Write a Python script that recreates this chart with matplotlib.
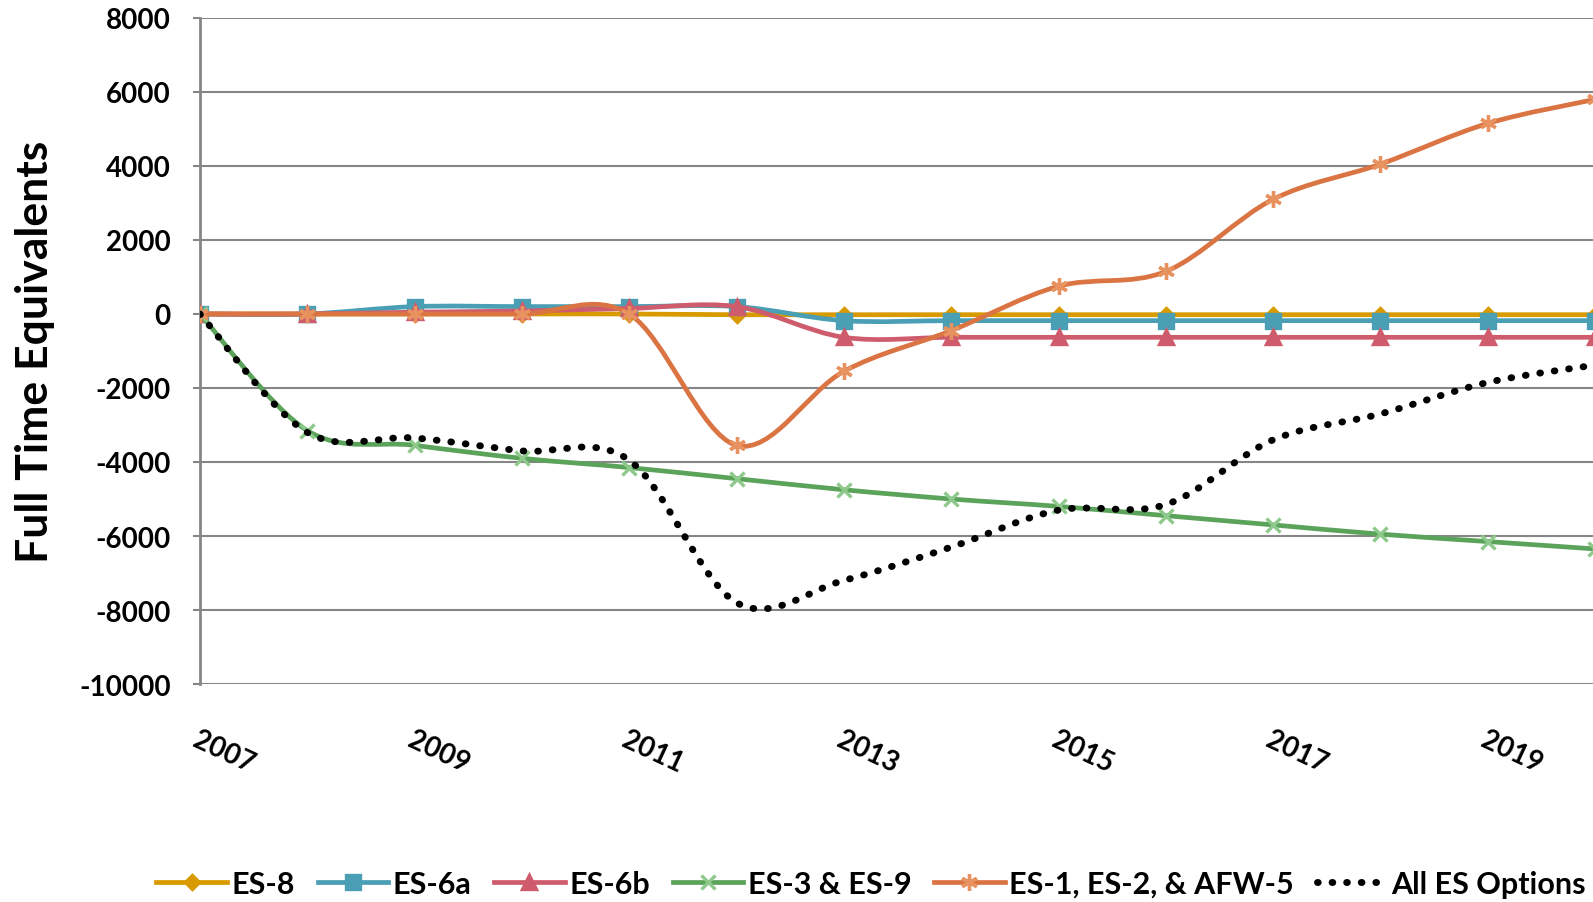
import matplotlib
matplotlib.use("Agg")
import matplotlib.pyplot as plt
import numpy as np
from matplotlib.path import Path
from matplotlib.patches import PathPatch
from matplotlib.lines import Line2D

plt.rcParams["font.family"] = ["Lato", "DejaVu Sans"]
plt.rcParams["font.weight"] = "bold"

# Data
years = [2007, 2008, 2009, 2010, 2011, 2012, 2013, 2014, 2015, 2016, 2017, 2018, 2019, 2020]
es8 = [0, 0, 0, 0, 0, -20, -20, -20, -20, -20, -20, -20, -20, -20]
es6a = [0, 0, 200, 200, 200, 200, -180, -180, -180, -180, -180, -180, -180, -180]
es6b = [0, 0, 50, 80, 150, 200, -630, -630, -630, -630, -630, -630, -630, -630]
es3_9 = [0, -3150, -3550, -3900, -4150, -4450, -4750, -5000, -5200, -5450, -5700, -5950, -6150, -6350]
es1_2 = [0, 0, 0, 0, 0, -3550, -1550, -450, 750, 1150, 3100, 4050, 5150, 5800]
all_es = [0, -3200, -3350, -3700, -3950, -7800, -7200, -6300, -5300, -5150, -3400, -2700, -1850, -1380]

labels = ["ES-8", "ES-6a", "ES-6b", "ES-3 & ES-9", "ES-1, ES-2, & AFW-5", "All ES Options"]
colors = ["#D99A00", "#4A9FB5", "#CE5C6C", "#5BA35A", "#DB7443", "#000000"]
marker_faces = ["#D99A00", "#4A9FB5", "#CE5C6C", "#8CC98A", "#E8925F", None]
markers = ["D", "s", "^", "x", (6, 2, 0), None]
series = [es8, es6a, es6b, es3_9, es1_2, all_es]

ytick_vals = [8000, 6000, 4000, 2000, 0, -2000, -4000, -6000, -8000, -10000]
xtick_vals = [2007, 2009, 2011, 2013, 2015, 2017, 2019]


def smooth_path(x, y):
    # Excel-style smoothed line as cubic Bezier segments (Catmull-Rom control points)
    pts = np.column_stack([x, y]).astype(float)
    ext = np.vstack([pts[0], pts, pts[-1]])
    verts = [pts[0]]
    codes = [Path.MOVETO]
    for i in range(len(pts) - 1):
        p0, p1, p2, p3 = ext[i], ext[i + 1], ext[i + 2], ext[i + 3]
        verts += [p1 + (p2 - p0) / 6, p2 - (p3 - p1) / 6, p2]
        codes += [Path.CURVE4] * 3
    return Path(verts, codes)


fig = plt.figure(figsize=(15.93, 9.03), dpi=100)
ax = fig.add_axes([0.1255, 0.2414, 0.8745, 0.7376])

dotted = (0, (0.1, 2.0))
handles = []
for vals, lab, c, mf, m in zip(series, labels, colors, marker_faces, markers):
    if m is None:
        patch = PathPatch(smooth_path(years, vals), facecolor="none", edgecolor=c,
                          lw=5, linestyle=dotted, capstyle="round", zorder=4)
        ax.add_patch(patch)
        handles.append(Line2D([], [], color=c, lw=5, linestyle=dotted,
                              dash_capstyle="round"))
    else:
        patch = PathPatch(smooth_path(years, vals), facecolor="none", edgecolor=c,
                          lw=3.4, zorder=3)
        ax.add_patch(patch)
        ms = 10.5
        if m == "D":
            ms = 7
        if m == "x":
            ms = 10
        if m == (6, 2, 0):
            ms = 12
        ax.plot(years, vals, linestyle="none", marker=m, ms=ms, color=mf,
                mec=mf, mew=2.4, zorder=3)
        handles.append(Line2D([], [], color=c, lw=3.4, marker=m, ms=ms,
                              mfc=mf, mec=mf, mew=2.4))

ax.set_xlim(2007, 2019.98)
ax.set_ylim(-10000, 8000)
ax.set_yticks(ytick_vals)
ax.set_yticklabels([str(v) for v in ytick_vals], fontsize=20, fontweight="bold")
ax.set_xticks(xtick_vals)
ax.set_xticklabels([str(v) for v in xtick_vals], fontsize=20, fontweight="bold",
                   rotation=-25, ha="left", va="top", rotation_mode="anchor")
ax.tick_params(axis="x", length=0, pad=30)
ax.tick_params(axis="y", length=5, width=1.5, color="#868686", pad=16)

ax.grid(axis="y", color="#868686", lw=1.5)
ax.set_axisbelow(True)
for side in ["top", "right", "bottom"]:
    ax.spines[side].set_visible(False)
ax.spines["left"].set_color("#868686")
ax.spines["left"].set_linewidth(2)

fig.text(0.022, 0.61, "Full Time Equivalents", rotation=90, fontsize=32,
         fontweight="bold", ha="center", va="center")

fig.legend(handles, labels, loc="center", bbox_to_anchor=(0.547, 0.02), ncol=6,
           frameon=False, prop={"size": 22, "weight": "bold"}, handlelength=2.3,
           handletextpad=0.15, columnspacing=0.75)

fig.savefig("out.png", dpi=100)
